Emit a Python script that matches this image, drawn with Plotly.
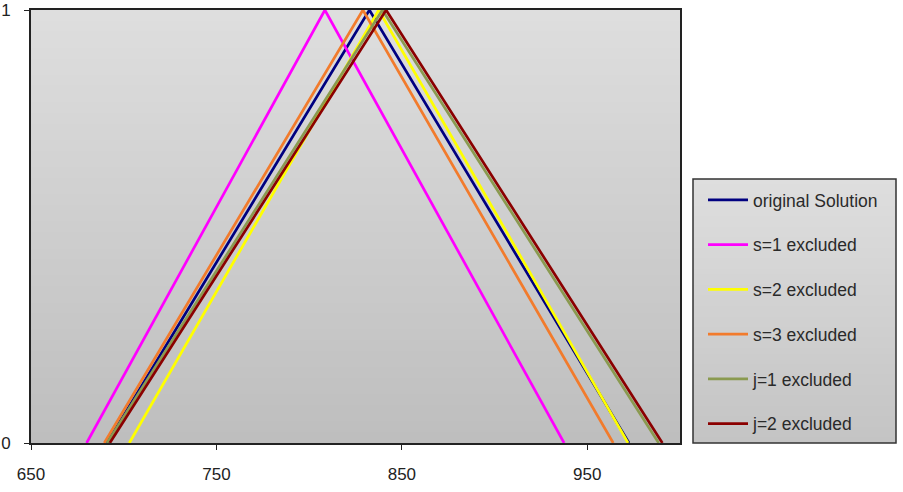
import plotly.graph_objects as go

# ---- data ----
names = ["original Solution", "s=1 excluded", "s=2 excluded",
         "s=3 excluded", "j=1 excluded", "j=2 excluded"]
colors = ["#000080", "#FF00FF", "#FFFF00", "#F27B2C", "#8A9A50", "#8B0000"]
left_x = [691, 680, 703, 689.5, 691, 692.5]
peak_x = [832.5, 808.5, 837.5, 829, 839.5, 841.5]
right_x = [972.5, 937.5, 972, 964, 988.5, 990.5]
membership = [0, 1, 0]
x_ticks = [650, 750, 850, 950]
y_ticks = [0, 1]

W, H = 903, 492
ML, MR, MT, MB = 31, 223, 10, 49
FONT = "Liberation Sans, Arial, sans-serif"

fig = go.Figure()
for i, n in enumerate(names):
    fig.add_trace(go.Scatter(
        x=[left_x[i], peak_x[i], right_x[i]], y=membership,
        mode="lines", name=n, legendgroup=n,
        line=dict(color=colors[i], width=2.7),
    ))

shapes = []
# plot-area gradient (each band covers down to the bottom -> no seams)
N = 80
for k in range(N):
    t = k / (N - 1)
    c = int(round(222 - (222 - 190) * t))
    shapes.append(dict(type="rect", xref="paper", yref="paper",
                       x0=0, x1=1, y0=0, y1=1 - k / N,
                       fillcolor=f"rgb({c},{c},{c})", line=dict(width=0),
                       layer="below"))

# legend box gradient
pw, ph = W - ML - MR, H - MT - MB
def px2x(px):
    return (px - ML) / pw
def py2y(py):
    return (H - MB - py) / ph
lx0, lx1 = px2x(693), px2x(896)
ly0, ly1 = py2y(443), py2y(179)
M = 50
for k in range(M):
    t = k / (M - 1)
    c = int(round(222 - (222 - 196) * t))
    shapes.append(dict(type="rect", xref="paper", yref="paper",
                       x0=lx0, x1=lx1, y0=ly0,
                       y1=ly1 - k * (ly1 - ly0) / M,
                       fillcolor=f"rgb({c},{c},{c})", line=dict(width=0),
                       layer="below"))
shapes.append(dict(type="rect", xref="paper", yref="paper",
                   x0=lx0, x1=lx1, y0=ly0, y1=ly1,
                   line=dict(color="#333333", width=1.5),
                   fillcolor="rgba(0,0,0,0)", layer="above"))

fig.update_layout(
    width=W, height=H,
    margin=dict(l=ML, r=MR, t=MT, b=MB, pad=0, autoexpand=False),
    paper_bgcolor="white", plot_bgcolor="rgba(0,0,0,0)",
    font=dict(family=FONT, size=17, color="#222222"),
    shapes=shapes,
    showlegend=True,
    legend=dict(x=px2x(703), y=py2y(182), xanchor="left", yanchor="top",
                bgcolor="rgba(0,0,0,0)", borderwidth=0,
                font=dict(family=FONT, size=17.5, color="#2a2a2a"),
                tracegroupgap=19, itemwidth=40),
    xaxis=dict(range=[650, 1000], tickvals=x_ticks,
               ticktext=[str(v) for v in x_ticks], automargin=False,
               showgrid=False, zeroline=False, showline=True,
               linecolor="#222222", linewidth=2, mirror=True,
               ticks="outside", ticklen=5, tickcolor="#222222",
               ticklabelstandoff=10),
    yaxis=dict(range=[0, 1], tickvals=y_ticks,
               ticktext=[str(v) for v in y_ticks], automargin=False,
               showgrid=False, zeroline=False, showline=True,
               linecolor="#222222", linewidth=2, mirror=True,
               ticks="outside", ticklen=5, tickcolor="#222222",
               ticklabelstandoff=10),
)

fig.write_html("out.html")
